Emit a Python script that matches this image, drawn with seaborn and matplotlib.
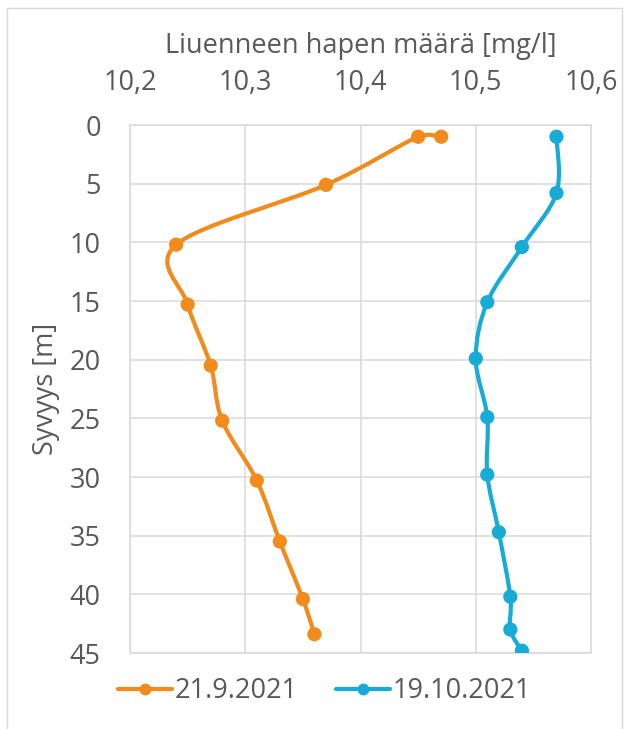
"""Liuenneen hapen syvyysprofiili, kaksi mittauspäivää"""

import matplotlib

matplotlib.use("Agg")
import matplotlib.pyplot as plt
import numpy as np
import pandas as pd
import seaborn as sns
from matplotlib.lines import Line2D
from matplotlib.patches import PathPatch, Rectangle
from matplotlib.path import Path
from matplotlib.ticker import FuncFormatter

# %% Data

dates = ["21.9.2021", "19.10.2021"]
# 21.9.2021
oxygen_sep = [10.47, 10.45, 10.37, 10.24, 10.25, 10.27, 10.28, 10.31, 10.33, 10.35, 10.36]
depth_sep = [1.0, 1.0, 5.1, 10.2, 15.3, 20.5, 25.2, 30.3, 35.5, 40.4, 43.4]
# 19.10.2021
oxygen_oct = [10.57, 10.57, 10.54, 10.51, 10.50, 10.51, 10.51, 10.52, 10.53, 10.53, 10.54]
depth_oct = [1.0, 5.8, 10.4, 15.1, 19.9, 24.9, 29.8, 34.7, 40.2, 43.0, 44.8]

x_ticks = [10.2, 10.3, 10.4, 10.5, 10.6]
y_ticks = [0, 5, 10, 15, 20, 25, 30, 35, 40, 45]

colors = {"21.9.2021": "#F28A1C", "19.10.2021": "#18ABD5"}
text_color = "#595959"
grid_color = "#D9D9D9"

data = pd.concat(
    [
        pd.DataFrame({"happi": oxygen_sep, "syvyys": depth_sep, "pvm": dates[0]}),
        pd.DataFrame({"happi": oxygen_oct, "syvyys": depth_oct, "pvm": dates[1]}),
    ],
    ignore_index=True,
)

# %% Plot

sns.set_theme(style="white")
plt.rcParams["font.family"] = ["Open Sans", "DejaVu Sans"]

fs = 19.5

fig = plt.figure(figsize=(6.24, 7.29), dpi=100)
ax = fig.add_axes([130 / 624, 1 - 653 / 729, 461 / 624, 528 / 729])

ax.set_xlim(10.2, 10.6)
ax.set_ylim(45, 0)


def _handle(d, seg_len):
    # kahvan pituus korkeintaan puolet janan pituudesta (ei silmukoita lyhyillä väleillä)
    n = np.hypot(*d)
    lim = 0.5 * seg_len
    return d if n <= lim or n == 0 else d * lim / n


def smooth_path(xs, ys):
    """Excel-tyylinen pehmennetty viiva (Catmull-Rom -> Bezier) näyttökoordinaateissa."""
    pts = ax.transData.transform(np.column_stack([xs, ys]))
    n = len(pts)
    verts = [pts[0]]
    codes = [Path.MOVETO]
    for i in range(n - 1):
        p0 = pts[max(i - 1, 0)]
        p1 = pts[i]
        p2 = pts[i + 1]
        p3 = pts[min(i + 2, n - 1)]
        seg = np.hypot(*(p2 - p1))
        c1 = p1 + _handle((p2 - p0) / 6, seg)
        c2 = p2 - _handle((p3 - p1) / 6, seg)
        verts += [c1, c2, p2]
        codes += [Path.CURVE4] * 3
    verts = ax.transData.inverted().transform(np.array(verts))
    return Path(verts, codes)


for date in dates:
    sub = data[data["pvm"] == date]
    ax.add_patch(
        PathPatch(
            smooth_path(sub["happi"].to_numpy(), sub["syvyys"].to_numpy()),
            facecolor="none",
            edgecolor=colors[date],
            linewidth=3.0,
            capstyle="round",
            joinstyle="round",
            zorder=3,
        )
    )

sns.scatterplot(
    data=data,
    x="happi",
    y="syvyys",
    hue="pvm",
    palette=colors,
    s=105,
    linewidth=0,
    legend=False,
    zorder=4,
    ax=ax,
)

ax.set_xticks(x_ticks)
ax.set_yticks(y_ticks)
ax.xaxis.set_major_formatter(FuncFormatter(lambda v, _: f"{v:.1f}".replace(".", ",")))
ax.xaxis.tick_top()
ax.xaxis.set_label_position("top")
ax.tick_params(axis="x", length=0, pad=20, labelsize=fs, labelcolor=text_color)
ax.tick_params(axis="y", length=0, pad=21, labelsize=fs, labelcolor=text_color)
ax.set_xlabel("Liuenneen hapen määrä [mg/l]", fontsize=fs, color=text_color, labelpad=12)
ax.set_ylabel("Syvyys [m]", fontsize=fs, color=text_color, labelpad=7)

ax.grid(True, color=grid_color, linewidth=1.1)
for spine in ax.spines.values():
    spine.set_visible(True)
    spine.set_color(grid_color)
    spine.set_linewidth(1.1)

handles = [
    Line2D([], [], color=colors[d], linewidth=3.0, marker="o", markersize=7.5)
    for d in dates
]
fig.legend(
    handles,
    dates,
    loc="center",
    bbox_to_anchor=(0.52, 1 - 691 / 729),
    ncol=2,
    frameon=False,
    fontsize=fs,
    labelcolor=text_color,
    handlelength=2.0,
    handletextpad=0.1,
    columnspacing=1.4,
)

# kaavioalueen reunus
fig.patches.append(
    Rectangle(
        (7 / 624, -0.01),
        615 / 624,
        1 - 8 / 729 + 0.01,
        transform=fig.transFigure,
        facecolor="none",
        edgecolor=grid_color,
        linewidth=1.0,
    )
)

fig.savefig("out.png", dpi=100)
